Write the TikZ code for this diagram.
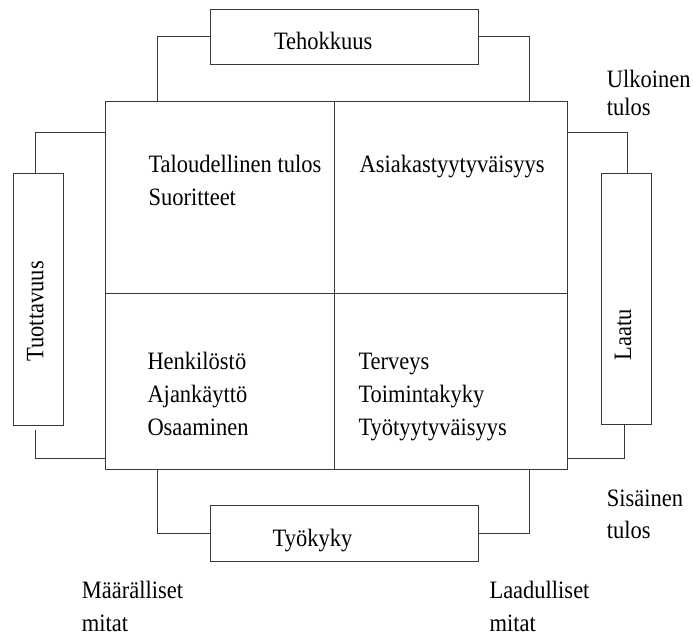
\documentclass[tikz,border=0pt]{standalone}
\usepackage{fontspec}
\setmainfont{Liberation Serif}[FakeStretch=0.9]
\begin{document}
\begin{tikzpicture}[x=1pt,y=-1pt,
  line/.style={draw=black!78, line width=0.9pt},
  conn/.style={line},
  quad/.style={line, inner sep=0pt, anchor=north west},
  % multi-line nodes: the base anchor sits on the last line
  txt/.style={font=\fontsize{25}{32.8}\selectfont, inner sep=0pt, anchor=base west, align=left},
  side/.style={font=\fontsize{25}{30}\selectfont, inner sep=0pt, anchor=base west, align=left},
  hbox/.style={line, inner ysep=0pt, align=left, font=\fontsize{25}{30}\selectfont},
  vbox/.style={line, inner ysep=0pt, align=left, rotate=90, font=\fontsize{25}{30}\selectfont}]
\useasboundingbox (0,0) rectangle (693,635);

% four quadrants of the central square
\node[quad, minimum width=229pt, minimum height=192.3pt] (q1) at (105,101) {};
\node[quad, minimum width=233pt, minimum height=192.3pt] (q2) at (334,101) {};
\node[quad, minimum width=229pt, minimum height=175.7pt] (q3) at (105,293.3) {};
\node[quad, minimum width=233pt, minimum height=175.7pt] (q4) at (334,293.3) {};

% quadrant contents
\node[txt] (t1) at (148.3,205) {Taloudellinen tulos\\Suoritteet};
\node[txt] (t2) at (359.5,172.3) {Asiakastyytyväisyys};
\node[txt] (t3) at (147.3,435) {Henkilöstö\\Ajankäyttö\\Osaaminen};
\node[txt] (t4) at (358.3,435) {Terveys\\Toimintakyky\\Työtyytyväisyys};

% surrounding boxes
\node[hbox, inner xsep=63.3pt, text width=141pt, text height=40pt, text depth=15pt]
  (teho) at (344.5,36.8) {Tehokkuus};
\node[hbox, inner xsep=62pt, text width=143.6pt, text height=41pt, text depth=14.3pt]
  (tyo) at (344.5,533.4) {Työkyky};
\node[vbox, inner xsep=63.3pt, text width=125.4pt, text height=30.3pt, text depth=19.7pt]
  (tuot) at (38,299) {Tuottavuus};
\node[vbox, inner xsep=64pt, text width=123pt, text height=30pt, text depth=20pt]
  (laatu) at (626,298.5) {Laatu};

% connection points on the square
\coordinate (nw) at (157,101);
\coordinate (ne) at (529,101);
\coordinate (sw) at (157,469);
\coordinate (se) at (529,469);
\coordinate (wn) at (105,132);
\coordinate (ws) at (105,458);
\coordinate (en) at (567,132);
\coordinate (es) at (567,458);

% connectors (the upright boxes are turned: east is their top, west their bottom)
\draw[conn] (teho.west) -| (nw);
\draw[conn] (teho.east) -| (ne);
\draw[conn] (tyo.west) -| (sw);
\draw[conn] (tyo.east) -| (se);
\draw[conn] ([xshift=-3pt]tuot.east) |- (wn);
\draw[conn, shorten <=5pt] ([xshift=-3pt]tuot.west) |- (ws);
\draw[conn] ([xshift=1.5pt]laatu.east) |- (en);
\draw[conn] ([xshift=-1.5pt]laatu.west) |- (es);

% corner captions
\node[side, font=\fontsize{25}{27.7}\selectfont] (ulk) at (606.7,115) {Ulkoinen\\tulos};
\node[side, font=\fontsize{25}{31.6}\selectfont] (sis) at (606.7,538.3) {Sisäinen\\tulos};
\node[side, font=\fontsize{25}{33}\selectfont] (maar) at (81.7,631) {Määrälliset\\mitat};
\node[side, font=\fontsize{25}{33}\selectfont] (laad) at (489.3,631) {Laadulliset\\mitat};
\end{tikzpicture}
\end{document}
